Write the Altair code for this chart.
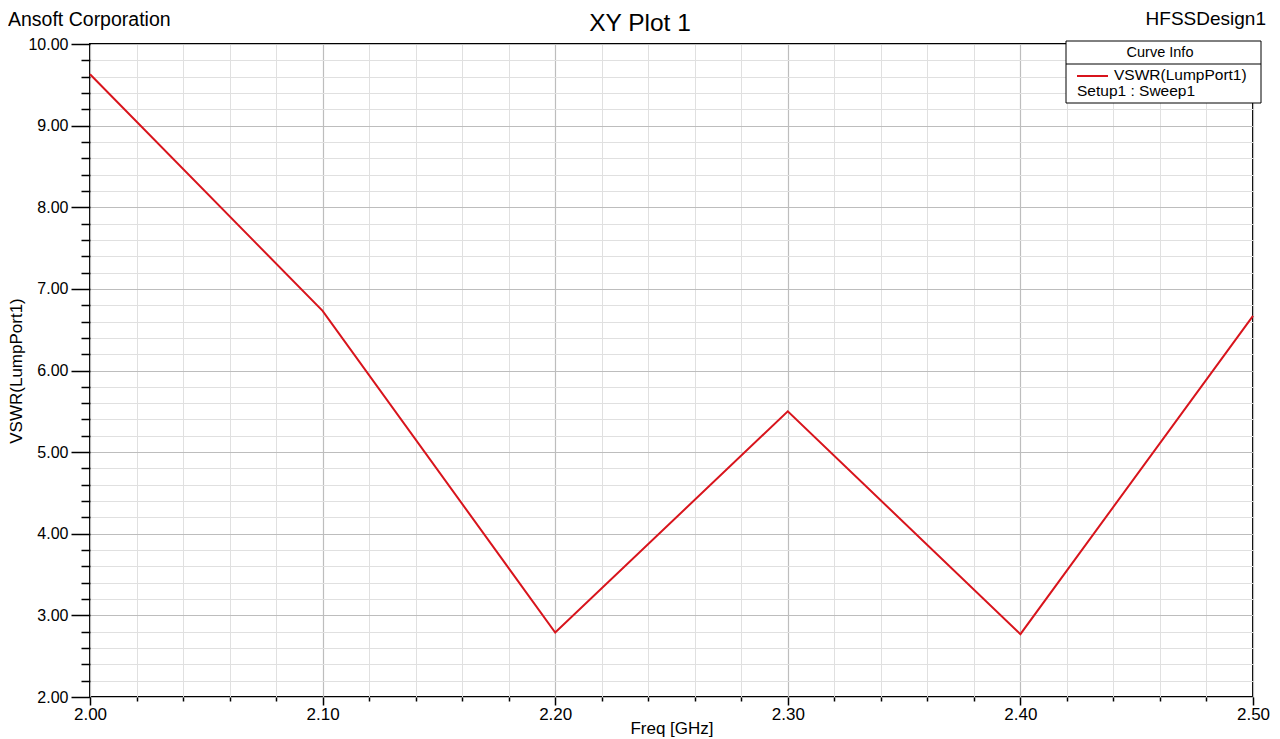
import altair as alt
import pandas as pd

# ---- data ----
freq = [2.00, 2.10, 2.20, 2.30, 2.40, 2.50]
vswr = [9.63, 6.73, 2.79, 5.50, 2.77, 6.67]

x_major = [2.00, 2.10, 2.20, 2.30, 2.40, 2.50]
x_minor = [2.02, 2.04, 2.06, 2.08, 2.12, 2.14, 2.16, 2.18, 2.22, 2.24, 2.26, 2.28,
           2.32, 2.34, 2.36, 2.38, 2.42, 2.44, 2.46, 2.48]
y_major = [2, 3, 4, 5, 6, 7, 8, 9, 10]
y_minor = [2.2, 2.4, 2.6, 2.8, 3.2, 3.4, 3.6, 3.8, 4.2, 4.4, 4.6, 4.8, 5.2, 5.4, 5.6, 5.8,
           6.2, 6.4, 6.6, 6.8, 7.2, 7.4, 7.6, 7.8, 8.2, 8.4, 8.6, 8.8, 9.2, 9.4, 9.6, 9.8]

title_text = "XY Plot 1"
left_text = "Ansoft Corporation"
right_text = "HFSSDesign1"
x_title = "Freq [GHz]"
y_title = "VSWR(LumpPort1)"
legend_header = "Curve Info"
legend_label = "VSWR(LumpPort1)"
legend_sub = "Setup1 : Sweep1"

FONT = "Liberation Sans"
RED = "#d8141c"
W, H = 1163, 653

df = pd.DataFrame({"freq": freq, "vswr": vswr})
one = pd.DataFrame({"a": [0]})

xscale = alt.Scale(domain=[2.0, 2.5], nice=False, zero=False)
yscale = alt.Scale(domain=[2, 10], nice=False, zero=False)

minor = alt.Chart(df).mark_line(opacity=0).encode(
    x=alt.X("freq:Q", scale=xscale,
            axis=alt.Axis(values=x_minor, orient="bottom", grid=True, gridColor="#e0e0e0",
                          gridWidth=1, labels=False, ticks=True, tickSize=4, tickWidth=1.5,
                          tickColor="black", domain=False, title=None)),
    y=alt.Y("vswr:Q", scale=yscale,
            axis=alt.Axis(values=y_minor, orient="left", grid=True, gridColor="#e0e0e0",
                          gridWidth=1, labels=False, ticks=True, tickSize=9, tickWidth=1.5,
                          tickColor="black", domain=False, title=None)),
)

major = alt.Chart(df).mark_line(color=RED, strokeWidth=2).encode(
    x=alt.X("freq:Q", scale=xscale,
            axis=alt.Axis(values=x_major, orient="bottom", grid=True, gridColor="#bdbdbd",
                          gridWidth=1.2, format=".2f", labelFlush=False, labelOverlap=False,
                          tickSize=8, tickWidth=1.5, tickColor="black", labelPadding=1,
                          labelFontSize=17, domain=False, title=x_title,
                          titleFontSize=17, titleY=36, titleBaseline="alphabetic")),
    y=alt.Y("vswr:Q", scale=yscale,
            axis=alt.Axis(values=y_major, orient="left", grid=True, gridColor="#bdbdbd",
                          gridWidth=1.2, format=".2f", labelFlush=False, labelOverlap=False,
                          tickSize=19, tickWidth=1.5, tickColor="black", labelPadding=3,
                          labelFontSize=16, domain=False, title=y_title,
                          titleFontSize=17, titleX=-74, titleY=H / 2,
                          titleBaseline="middle", titleAngle=270)),
)

def label(txt, x, y, size, align="left"):
    return alt.Chart(one).mark_text(text=txt, font=FONT, fontSize=size, align=align,
                                    baseline="alphabetic", color="black").encode(
        x=alt.value(x), y=alt.value(y))

header_left = label(left_text, -82, -18, 19.5)
header_mid = label(title_text, 550, -13, 24.5, "center")
header_right = label(right_text, 1176, -19, 19, "right")

legend_box = alt.Chart(one).mark_rect(fill="white", stroke="black", strokeWidth=1).encode(
    x=alt.value(976), x2=alt.value(1171), y=alt.value(-3), y2=alt.value(59))
legend_div = alt.Chart(one).mark_rule(color="black", strokeWidth=1).encode(
    x=alt.value(976), x2=alt.value(1171), y=alt.value(20))
legend_swatch = alt.Chart(one).mark_rule(color=RED, strokeWidth=2).encode(
    x=alt.value(987), x2=alt.value(1018), y=alt.value(32))
legend_h = label(legend_header, 1070, 13, 14.5, "center")
legend_l = label(legend_label, 1024, 36, 15.5)
legend_s = label(legend_sub, 987, 52, 15.5)

chart = alt.layer(
    minor, major, header_left, header_mid, header_right,
    legend_box, legend_div, legend_swatch, legend_h, legend_l, legend_s
).resolve_axis(x="independent", y="independent").properties(
    width=W, height=H,
    autosize=alt.AutoSizeParams(type="none"),
    padding={"left": 82, "top": 36, "right": 19, "bottom": 40},
).configure_view(stroke="black", strokeWidth=2).configure_axis(
    labelFont=FONT, titleFont=FONT, labelColor="black", titleColor="black",
    titleFontWeight="normal"
)

chart.save("out.html", embed_options={"renderer": "svg", "actions": False})
